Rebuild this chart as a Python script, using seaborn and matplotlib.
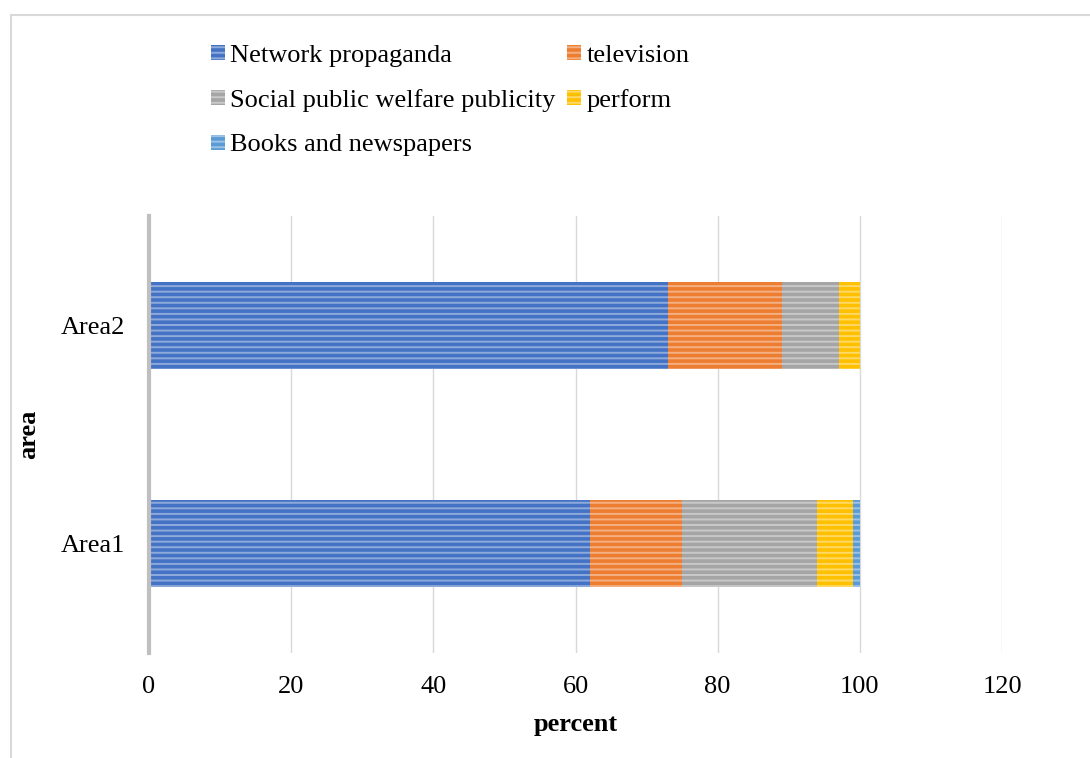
import numpy as np
import pandas as pd
import seaborn as sns
import matplotlib.pyplot as plt
from matplotlib.patches import Rectangle, Patch

# 資料
areas = ['Area2', 'Area1']
series = ['Network propaganda', 'television', 'Social public welfare publicity', 'perform', 'Books and newspapers']
network = [73, 62]
television = [16, 13]
social = [8, 19]
perform = [3, 5]
books = [0, 1]
colors = ['#4472C4', '#ED7D31', '#A5A5A5', '#FFC000', '#5B9BD5']

sns.set_style('white')
plt.rcParams['font.family'] = ['Liberation Serif', 'DejaVu Serif']
plt.rcParams['text.color'] = 'black'
plt.rcParams['xtick.color'] = 'black'
plt.rcParams['ytick.color'] = 'black'
plt.rcParams['axes.labelcolor'] = 'black'
plt.rcParams['hatch.linewidth'] = 1.4

df = pd.DataFrame({'area': areas, 'Network propaganda': network, 'television': television,
                   'Social public welfare publicity': social, 'perform': perform,
                   'Books and newspapers': books})
# 累加，由最長畫到最短疊在一起
cum = df[series].cumsum(axis=1)

fig = plt.figure(figsize=(10.9, 7.58), dpi=100)
ax = fig.add_axes([149 / 1090, 1 - 653 / 758, (1002 - 149) / 1090, (653 - 216) / 758])

for s, c in zip(series[::-1], colors[::-1]):
    tmp = pd.DataFrame({'area': df['area'], 'val': cum[s]})
    sns.barplot(data=tmp, x='val', y='area', orient='h', color=c, width=0.4,
                saturation=1, ax=ax)

hatch_col = (1, 1, 1, 0.4)
for p in ax.patches:
    p.set_hatch('---')
    p.set_edgecolor(hatch_col)
    p.set_linewidth(0)

ax.set_xlim(0, 120)
ax.set_xticks(np.arange(0, 121, 20))
ax.grid(axis='x', color='#D9D9D9', linewidth=1)
ax.set_axisbelow(True)
for sp in ['top', 'right', 'bottom']:
    ax.spines[sp].set_visible(False)
ax.spines['left'].set_color('#BFBFBF')
ax.spines['left'].set_linewidth(3)
ax.tick_params(axis='both', length=0, labelsize=19)
ax.tick_params(axis='x', pad=16.5)
ax.tick_params(axis='y', pad=17)
ax.set_xlabel('percent', fontsize=19, fontweight='bold', labelpad=10.5)
ax.set_ylabel('area', fontsize=19, fontweight='bold')
ax.yaxis.set_label_coords((40 - 149) / 853, 0.5)

# 圖例
order = [0, 2, 4, 1, 3]
handles = [Patch(facecolor=colors[i], hatch='---', edgecolor=hatch_col, linewidth=0) for i in order]
labels = [series[i] for i in order]
fig.legend(handles, labels, ncol=2, loc='upper left', bbox_to_anchor=(200 / 1090, 1 - 34 / 758),
           frameon=False, fontsize=19, handlelength=0.55, handleheight=0.5, handletextpad=0.2,
           columnspacing=0.42, labelspacing=0.85, borderaxespad=0)

# 外框
fig.patches.append(Rectangle((11 / 1090, -0.1), 1.2, (758 - 15) / 758 + 0.1, transform=fig.transFigure,
                             fill=False, edgecolor='#D9D9D9', linewidth=1.5))

fig.savefig('out.png', dpi=100)
